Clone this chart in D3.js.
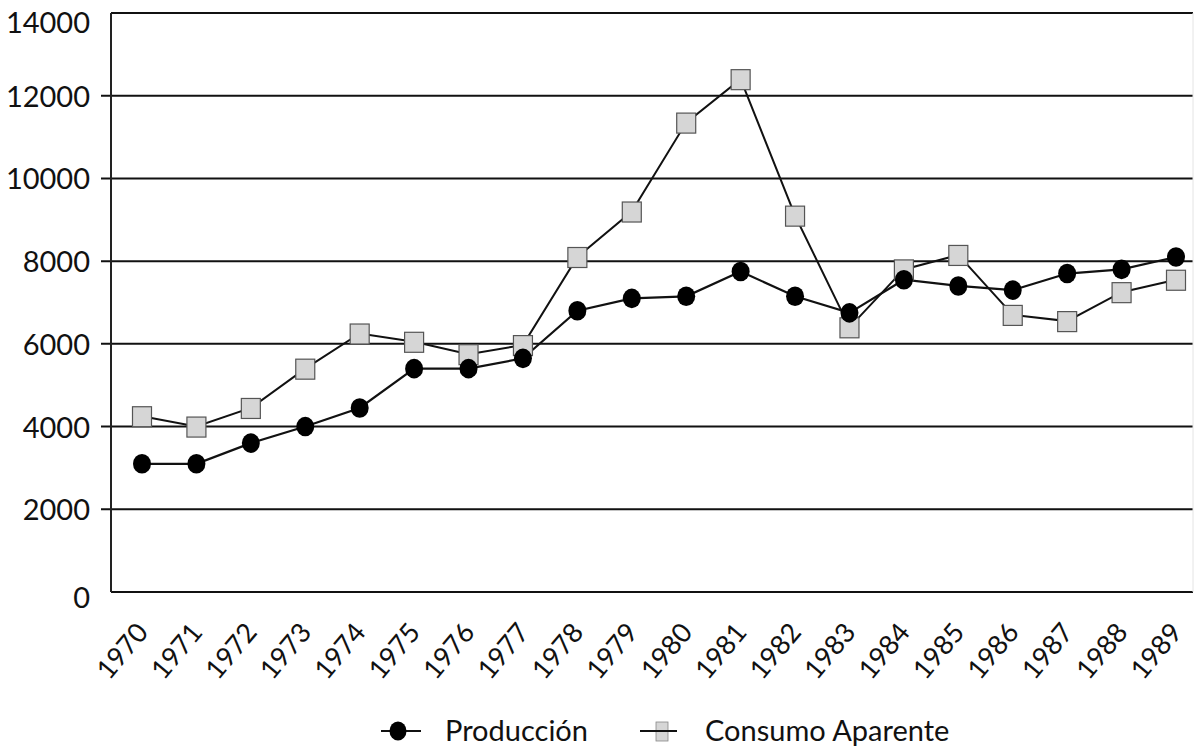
<!DOCTYPE html>
<html>
<head>
<meta charset="utf-8">
<script src="https://cdn.jsdelivr.net/npm/d3@7"></script>
<style>
  html, body { margin: 0; padding: 0; background: #fff; }
  svg { display: block; }
  text { font-family: Lato, "Open Sans", sans-serif; fill: #111; }
</style>
</head>
<body>
<svg id="chart" width="1195" height="752"></svg>
<script>
const years = [1970,1971,1972,1973,1974,1975,1976,1977,1978,1979,1980,1981,1982,1983,1984,1985,1986,1987,1988,1989];
const produccion = [3100,3100,3600,4000,4450,5400,5400,5650,6800,7100,7150,7750,7150,6750,7550,7400,7300,7700,7800,8100];
const consumo = [4250,4000,4450,5400,6250,6050,5750,5970,8100,9200,11350,12400,9100,6400,7800,8150,6700,6550,7250,7550];
const yTicks = [0,2000,4000,6000,8000,10000,12000,14000];
const seriesNames = ["Producción", "Consumo Aparente"];

const svg = d3.select("#chart");
const L = 111, R = 1193, T = 13, B = 592;

const x = d3.scalePoint().domain(years).range([L + 31, R - 17]);
const y = d3.scaleLinear().domain([0, 14000]).range([B, T]);

// gridlines
const grid = svg.append("g");
grid.selectAll("line").data(yTicks).join("line")
  .attr("x1", d => (d === 0 || d === 14000) ? L : L - 10)
  .attr("x2", R)
  .attr("y1", d => y(d)).attr("y2", d => y(d))
  .attr("stroke", "#111").attr("stroke-width", 2);

// left axis line
svg.append("line").attr("x1", L).attr("x2", L).attr("y1", T).attr("y2", B)
  .attr("stroke", "#222").attr("stroke-width", 2);
// faint right edge
svg.append("line").attr("x1", R).attr("x2", R).attr("y1", T).attr("y2", B)
  .attr("stroke", "#e4e4e4").attr("stroke-width", 1);

// y tick labels via axis
const yAxis = svg.append("g").attr("transform", `translate(${L - 21},0)`)
  .call(d3.axisLeft(y).tickValues(yTicks).tickSize(0).tickPadding(0).tickFormat(d3.format("d")));
yAxis.select(".domain").remove();
yAxis.selectAll("text").style("font-size", "29px").style("font-family", "Lato, sans-serif")
  .attr("fill", "#111")
  .attr("dy", d => d === 14000 ? "0.66em" : (d === 0 ? "0.52em" : "0.36em"));

// x tick labels via axis
const xAxis = svg.append("g").attr("transform", `translate(0,${B})`)
  .call(d3.axisBottom(x).tickSize(0).tickPadding(0));
xAxis.select(".domain").remove();
xAxis.selectAll("text")
  .style("font-size", "27px").style("font-family", "Lato, sans-serif").attr("fill", "#111")
  .attr("text-anchor", "end")
  .attr("y", 0).attr("dy", 0)
  .attr("transform", "translate(7,41) rotate(-50)");

// lines
const line = d3.line().x((d, i) => x(years[i])).y(d => y(d));
svg.append("path").datum(consumo).attr("d", line)
  .attr("fill", "none").attr("stroke", "#111").attr("stroke-width", 2);
svg.append("path").datum(produccion).attr("d", line)
  .attr("fill", "none").attr("stroke", "#111").attr("stroke-width", 2.2);

// consumo squares
const sq = 19;
svg.append("g").selectAll("rect").data(consumo).join("rect")
  .attr("x", (d, i) => x(years[i]) - sq / 2)
  .attr("y", d => y(d) - sq / 2)
  .attr("width", sq).attr("height", sq + 1)
  .attr("fill", "#d6d6d6").attr("stroke", "#555").attr("stroke-width", 1.2);

// produccion circles
svg.append("g").selectAll("ellipse").data(produccion).join("ellipse")
  .attr("cx", (d, i) => x(years[i]))
  .attr("cy", d => y(d))
  .attr("rx", 9).attr("ry", 9.8)
  .attr("fill", "#000");

// legend
const ly = 731;
const lg = svg.append("g");
lg.append("line").attr("x1", 381).attr("x2", 421).attr("y1", ly).attr("y2", ly)
  .attr("stroke", "#111").attr("stroke-width", 2);
lg.append("ellipse").attr("cx", 398).attr("cy", ly).attr("rx", 8.5).attr("ry", 9.5).attr("fill", "#000");
lg.append("text").attr("x", 445).attr("y", ly + 10).style("font-size", "29px").text(seriesNames[0]);

lg.append("rect").attr("x", 656).attr("y", ly - 9).attr("width", 12).attr("height", 19)
  .attr("fill", "#d6d6d6").attr("stroke", "#888").attr("stroke-width", 0.8);
lg.append("line").attr("x1", 640).attr("x2", 677).attr("y1", ly).attr("y2", ly)
  .attr("stroke", "#111").attr("stroke-width", 1.8);
lg.append("text").attr("x", 705).attr("y", ly + 10).style("font-size", "29px").text(seriesNames[1]);
</script>
</body>
</html>
